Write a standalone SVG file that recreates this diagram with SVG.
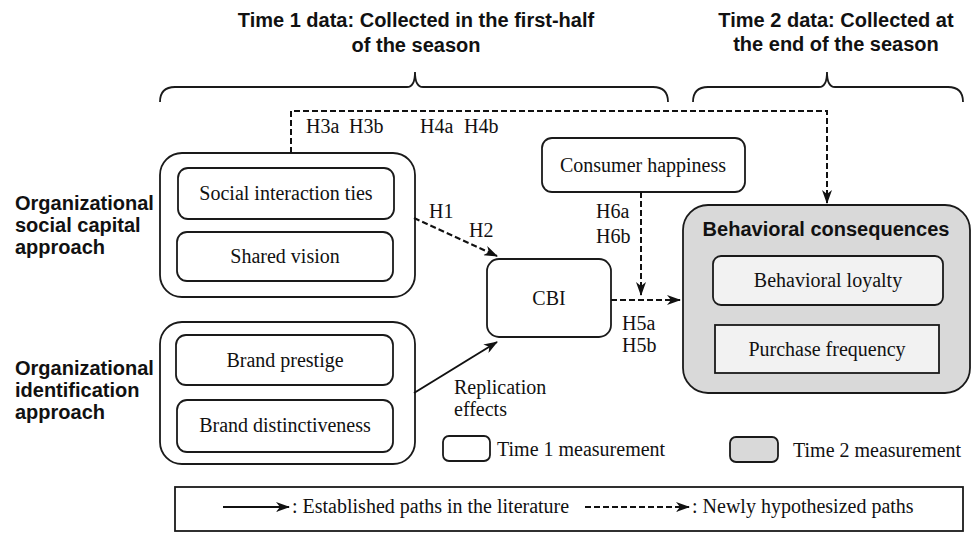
<svg xmlns="http://www.w3.org/2000/svg" width="973" height="539" viewBox="0 0 973 539">
  <defs>
    <style>
      .box { fill: #ffffff; stroke: #1a1a1a; stroke-width: 1.8; }
      .gray { fill: #d9d9d9; stroke: #1a1a1a; stroke-width: 1.8; }
      .light { fill: #f2f2f2; stroke: #1a1a1a; stroke-width: 1.8; }
      .serif { font-family: "Liberation Serif", "Times New Roman", serif; font-size: 20px; fill: #111; }
      .mid { text-anchor: middle; }
      .bold { font-family: "Liberation Sans", Arial, sans-serif; font-size: 20px; font-weight: bold; fill: #111; }
      .brace { fill: none; stroke: #1a1a1a; stroke-width: 1.8; }
      .dash { fill: none; stroke: #111; stroke-width: 2; stroke-dasharray: 6 3; }
      .solid { fill: none; stroke: #111; stroke-width: 2; }
    </style>
    <marker id="head" viewBox="0 0 14 10" refX="13" refY="5" markerWidth="14" markerHeight="10" markerUnits="userSpaceOnUse" orient="auto">
      <path d="M0,0 L14,5 L0,10 L4,5 Z" fill="#111"/>
    </marker>
  </defs>

  <rect width="973" height="539" fill="#ffffff"/>

  <!-- data collection periods -->
  <g id="time1-header">
    <text class="bold mid" x="416" y="27">Time 1 data: Collected in the first-half</text>
    <text class="bold mid" x="416" y="52">of the season</text>
    <path class="brace" d="M160,102 Q160,87 175,87 L407,87 Q415,87 415,72 Q415,87 423,87 L653,87 Q668,87 668,102"/>
  </g>
  <g id="time2-header">
    <text class="bold mid" x="836" y="27">Time 2 data: Collected at</text>
    <text class="bold mid" x="836" y="51">the end of the season</text>
    <path class="brace" d="M693,102 Q693,87 708,87 L819,87 Q827,87 827,72 Q827,87 835,87 L948,87 Q963,87 963,102"/>
  </g>

  <!-- side labels -->
  <g id="label-social">
    <text class="bold" x="15" y="210">Organizational</text>
    <text class="bold" x="15" y="232">social capital</text>
    <text class="bold" x="15" y="254">approach</text>
  </g>
  <g id="label-identification">
    <text class="bold" x="15" y="375">Organizational</text>
    <text class="bold" x="15" y="397">identification</text>
    <text class="bold" x="15" y="419">approach</text>
  </g>

  <!-- social capital group -->
  <g id="social-capital">
    <rect class="box" x="160" y="153" width="255" height="144" rx="22"/>
    <g id="social-interaction-ties">
      <rect class="box" x="178" y="168" width="216" height="51" rx="10"/>
      <text class="serif mid" x="286" y="200">Social interaction ties</text>
    </g>
    <g id="shared-vision">
      <rect class="box" x="177" y="232" width="216" height="49" rx="10"/>
      <text class="serif mid" x="285" y="263">Shared vision</text>
    </g>
  </g>

  <!-- identification group -->
  <g id="identification">
    <rect class="box" x="160" y="322" width="255" height="142" rx="22"/>
    <g id="brand-prestige">
      <rect class="box" x="176" y="335" width="217" height="50" rx="10"/>
      <text class="serif mid" x="285" y="367">Brand prestige</text>
    </g>
    <g id="brand-distinctiveness">
      <rect class="box" x="177" y="400" width="216" height="52" rx="10"/>
      <text class="serif mid" x="285" y="432">Brand distinctiveness</text>
    </g>
  </g>

  <g id="consumer-happiness">
    <rect class="box" x="542" y="138" width="203" height="54" rx="10"/>
    <text class="serif mid" x="643" y="172">Consumer happiness</text>
  </g>

  <g id="cbi">
    <rect class="box" x="487" y="259" width="124" height="78" rx="12"/>
    <text class="serif mid" x="549" y="305">CBI</text>
  </g>

  <g id="behavioral-consequences">
    <rect class="gray" x="683" y="205" width="287" height="188" rx="25"/>
    <text class="bold mid" x="826" y="236">Behavioral consequences</text>
    <g id="behavioral-loyalty">
      <rect class="light" x="713" y="256" width="230" height="49" rx="8"/>
      <text class="serif mid" x="828" y="287">Behavioral loyalty</text>
    </g>
    <g id="purchase-frequency">
      <rect class="light" x="715" y="325" width="224" height="48"/>
      <text class="serif mid" x="827" y="356">Purchase frequency</text>
    </g>
  </g>

  <!-- paths -->
  <g id="connectors">
    <path class="dash" d="M291,153 L291,111 L827,111 L827,203" marker-end="url(#head)"/>
    <path class="dash" d="M414,218 L497,256" marker-end="url(#head)"/>
    <path class="dash" d="M641,192 L641,295" marker-end="url(#head)"/>
    <path class="dash" d="M611,300 L680,300" marker-end="url(#head)"/>
    <path class="solid" d="M414,393 L497,342" marker-end="url(#head)"/>
  </g>

  <!-- path labels -->
  <g id="path-labels">
    <text class="serif" x="306" y="133">H3a</text>
    <text class="serif" x="349" y="133">H3b</text>
    <text class="serif" x="420" y="133">H4a</text>
    <text class="serif" x="464" y="133">H4b</text>
    <text class="serif" x="429" y="218">H1</text>
    <text class="serif" x="469" y="237">H2</text>
    <text class="serif" x="596" y="218">H6a</text>
    <text class="serif" x="596" y="243">H6b</text>
    <text class="serif" x="622" y="330">H5a</text>
    <text class="serif" x="622" y="352">H5b</text>
    <text class="serif" x="454" y="394">Replication</text>
    <text class="serif" x="454" y="416">effects</text>
  </g>

  <!-- measurement key -->
  <g id="key-time1">
    <rect class="box" x="443" y="436" width="47" height="25" rx="6"/>
    <text class="serif" x="497" y="456">Time 1 measurement</text>
  </g>
  <g id="key-time2">
    <rect class="gray" x="730" y="437" width="48" height="25" rx="6"/>
    <text class="serif" x="793" y="457">Time 2 measurement</text>
  </g>

  <!-- path key -->
  <g id="path-key">
    <rect class="box" x="175" y="487" width="788" height="44"/>
    <path class="solid" d="M223,507 L289,507" marker-end="url(#head)"/>
    <text class="serif" x="292" y="513">: Established paths in the literature</text>
    <path class="dash" d="M585,507 L689,507" marker-end="url(#head)"/>
    <text class="serif" x="692" y="513">: Newly hypothesized paths</text>
  </g>
</svg>
